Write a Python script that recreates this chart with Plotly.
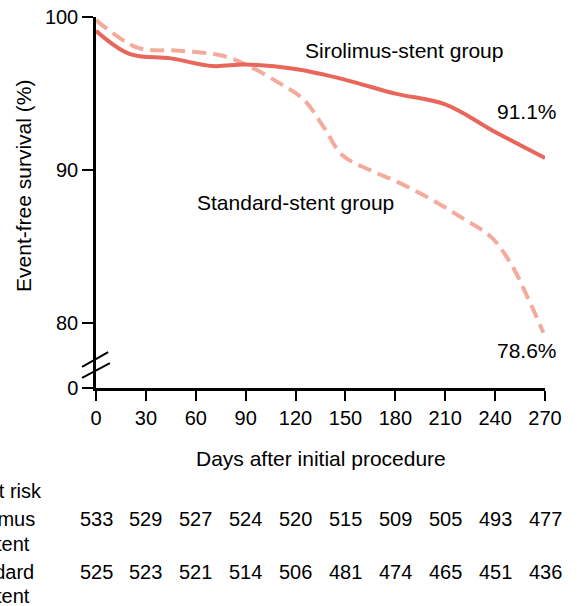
import plotly.graph_objects as go

# ---- data ----
siro_days = [0, 20, 45, 70, 90, 120, 150, 180, 210, 240, 270]
siro_surv = [99.1, 97.6, 97.3, 96.8, 96.9, 96.6, 95.9, 95.0, 94.3, 92.5, 90.8]

std_days = [0, 25, 50, 75, 90, 110, 125, 137, 148, 165, 180, 200, 220, 238, 250, 260, 269]
std_surv = [99.8, 98.0, 97.8, 97.5, 96.9, 95.7, 94.6, 92.8, 91.0, 90.0, 89.3, 88.2, 86.9, 85.6, 83.8, 81.6, 79.4]

x_ticks = [0, 30, 60, 90, 120, 150, 180, 210, 240, 270]
risk_siro = [533, 529, 527, 524, 520, 515, 509, 505, 493, 477]
risk_std = [525, 523, 521, 514, 506, 481, 474, 465, 451, 436]

y_bottom = 75.79  # position of the broken-axis "0"
y_tickvals = [y_bottom, 80, 90, 100]
y_ticktext = ["0", "80", "90", "100"]

FONT = "Liberation Sans, Arial, Helvetica, sans-serif"
SOLID = "#E8665A"
DASHED = "#F4AB9B"

fig = go.Figure()
fig.add_trace(go.Scatter(x=std_days, y=std_surv, mode="lines",
                         line=dict(color=DASHED, width=4, dash="14px,7px",
                                   shape="spline", smoothing=1.0),
                         showlegend=False, hoverinfo="skip"))
fig.add_trace(go.Scatter(x=siro_days, y=siro_surv, mode="lines",
                         line=dict(color=SOLID, width=4, shape="spline", smoothing=1.0),
                         showlegend=False, hoverinfo="skip"))

def A(**kw):
    d = dict(showarrow=False, xanchor="center", yanchor="middle")
    d.update(kw)
    return d

ann = []
# in-plot labels
ann.append(A(x=185, y=97.8, xref="x", yref="y", text="Sirolimus-stent group", font=dict(size=21)))
ann.append(A(x=259, y=93.85, xref="x", yref="y", text="91.1%", font=dict(size=21)))
ann.append(A(x=120, y=87.9, xref="x", yref="y", text="Standard-stent group", font=dict(size=21)))
ann.append(A(x=259, y=78.25, xref="x", yref="y", text="78.6%", font=dict(size=21)))

# axis titles
ann.append(A(x=-0.1604, y=0.5445, xref="paper", yref="paper",
             text="Event-free survival (%)", textangle=-90, font=dict(size=21)))
ann.append(A(x=0.5, y=-0.1887, xref="paper", yref="paper",
             text="Days after initial procedure", font=dict(size=21)))

# numbers at risk
for d, a, b in zip(x_ticks, risk_siro, risk_std):
    ann.append(A(x=d, y=-0.3531, xref="x", yref="paper", text=str(a), font=dict(size=20)))
    ann.append(A(x=d, y=-0.496, xref="x", yref="paper", text=str(b), font=dict(size=20)))

left_labels = [("No. at risk", -0.1158, -0.2776),
               ("Sirolimus", -0.1314, -0.3531),
               ("stent", -0.1425, -0.4205),
               ("Standard", -0.1336, -0.496),
               ("stent", -0.1425, -0.5606)]
for t, x, y in left_labels:
    ann.append(A(x=x, y=y, xref="paper", yref="paper", text=t,
                 xanchor="right", font=dict(size=20)))

shapes = [
    dict(type="line", xref="paper", yref="paper", x0=-0.031, y0=0.057, x1=0.027, y1=0.097,
         line=dict(color="black", width=2)),
    dict(type="line", xref="paper", yref="paper", x0=-0.031, y0=0.027, x1=0.031, y1=0.067,
         line=dict(color="black", width=2)),
]

fig.update_layout(
    width=580, height=606,
    margin=dict(l=96, r=35, t=17, b=218),
    paper_bgcolor="white", plot_bgcolor="white",
    font=dict(family=FONT, size=20, color="black"),
    annotations=ann, shapes=shapes,
    xaxis=dict(range=[0, 270], tickvals=x_ticks, showgrid=False, zeroline=False,
               showline=True, linecolor="black", linewidth=2.5, automargin=False,
               ticks="outside", ticklen=10, tickwidth=1.5, tickcolor="black",
               tickfont=dict(size=20), ticklabelstandoff=0),
    yaxis=dict(range=[y_bottom, 100], tickvals=y_tickvals, ticktext=y_ticktext,
               showgrid=False, zeroline=False, automargin=False,
               showline=True, linecolor="black", linewidth=2.5,
               ticks="outside", ticklen=11, tickwidth=1.5, tickcolor="black",
               tickfont=dict(size=20)),
)

fig.write_html("out.html", config={"displayModeBar": False},
               post_script="document.body.style.margin='0';document.body.style.overflow='hidden';")
